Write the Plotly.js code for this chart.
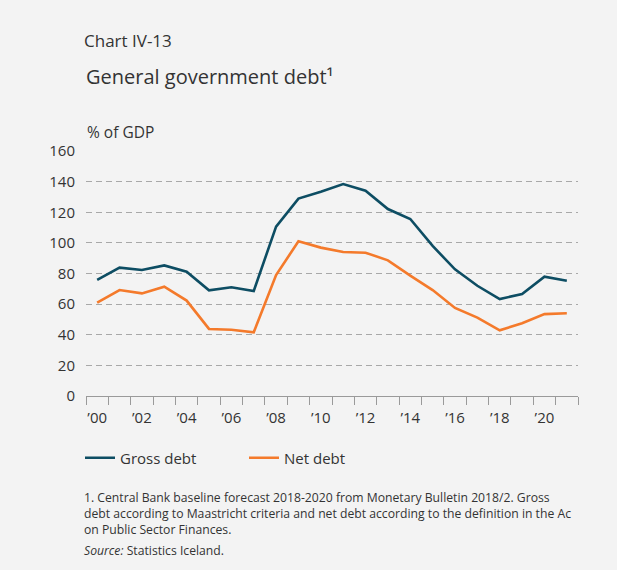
<!DOCTYPE html>
<html>
<head>
<meta charset="utf-8">
<script src="https://cdn.plot.ly/plotly-3.0.1.min.js"></script>
<style>
  html, body { margin: 0; padding: 0; background: #f3f3f3; }
  #chart { width: 617px; height: 570px; }
</style>
</head>
<body>
<div id="chart"></div>
<script>
// ---- Data ----
const years = [2000, 2001, 2002, 2003, 2004, 2005, 2006, 2007, 2008, 2009, 2010,
               2011, 2012, 2013, 2014, 2015, 2016, 2017, 2018, 2019, 2020, 2021];
const grossDebt = [75.8, 83.8, 82.3, 85.3, 81.2, 69.0, 71.0, 68.6, 110.6, 128.9, 133.4,
                   138.4, 134.1, 122.1, 115.6, 98.0, 82.7, 72.0, 63.3, 66.6, 77.9, 75.3];
const netDebt = [61.0, 69.2, 67.0, 71.4, 62.3, 43.8, 43.3, 41.6, 79.0, 101.0, 96.9,
                 94.0, 93.6, 88.6, 78.6, 69.2, 57.5, 51.2, 42.9, 47.5, 53.5, 54.0];
const xLabelYears = [2000, 2002, 2004, 2006, 2008, 2010, 2012, 2014, 2016, 2018, 2020];
const xTickLabels = ["\u201900", "\u201902", "\u201904", "\u201906", "\u201908", "\u201910",
                     "\u201912", "\u201914", "\u201916", "\u201918", "\u201920"];
const yTickValues = [0, 20, 40, 60, 80, 100, 120, 140, 160];
const seriesNames = ["Gross debt", "Net debt"];
const footnoteLines = [
  "1. Central Bank baseline forecast 2018-2020 from Monetary Bulletin 2018/2. Gross",
  "debt according to Maastricht criteria and net debt according to the definition in the Ac",
  "on Public Sector Finances."
];
const sourceText = "<i>Source:</i> Statistics Iceland.";

// ---- Styling ----
const FONT = "Open Sans, Noto Sans, sans-serif";
const TEXT = "#333333";
const W = 617, H = 570;
const M = { l: 86, r: 39, t: 151, b: 174 };
const plotW = W - M.l - M.r, plotH = H - M.t - M.b;
const px2x = px => (px - M.l) / plotW;
const py2y = py => (H - M.b - py) / plotH;

const traces = [
  { x: years, y: grossDebt, name: seriesNames[0], type: "scatter", mode: "lines",
    line: { color: "#0d4d63", width: 2.6 } },
  { x: years, y: netDebt, name: seriesNames[1], type: "scatter", mode: "lines",
    line: { color: "#f47a2b", width: 2.6 } }
];

const annotations = [
  { text: "General government debt\u00b9", xref: "paper", yref: "paper",
    x: px2x(84), y: py2y(77), xanchor: "left", yanchor: "middle", showarrow: false,
    font: { family: FONT, size: 20, color: TEXT } },
  { text: "% of GDP", xref: "paper", yref: "paper",
    x: px2x(85), y: py2y(132), xanchor: "left", yanchor: "middle", showarrow: false,
    font: { family: FONT, size: 15.5, color: TEXT } },
  { text: footnoteLines.join("<br>"), xref: "paper", yref: "paper", align: "left",
    x: px2x(83), y: py2y(513), xanchor: "left", yanchor: "middle", showarrow: false,
    borderpad: 0,
    font: { family: FONT, size: 12.2, color: TEXT } },
  { text: sourceText, xref: "paper", yref: "paper",
    x: px2x(83), y: py2y(550), xanchor: "left", yanchor: "middle", showarrow: false,
    borderpad: 0,
    font: { family: FONT, size: 12.2, color: TEXT } }
];

const layout = {
  width: W, height: H,
  margin: M,
  paper_bgcolor: "#f3f3f3",
  plot_bgcolor: "#f3f3f3",
  font: { family: FONT, color: TEXT, size: 15 },
  title: {
    text: "Chart IV-13",
    font: { family: FONT, size: 17, color: TEXT },
    xref: "container", yref: "container",
    x: 84 / W, xanchor: "left",
    y: 1 - 41 / H, yanchor: "middle"
  },
  showlegend: true,
  legend: {
    orientation: "h",
    xref: "container", yref: "container",
    x: 80 / W, xanchor: "left",
    y: 1 - 458 / H, yanchor: "middle",
    font: { family: FONT, size: 15, color: TEXT },
    bgcolor: "rgba(0,0,0,0)",
    entrywidth: 119,
    itemwidth: 30,
    traceorder: "normal"
  },
  xaxis: {
    range: [years[0] - 0.5, years[years.length - 1] + 0.5],
    tickmode: "array",
    tickvals: xLabelYears,
    ticktext: xTickLabels,
    ticks: "outside", ticklen: 8, tickcolor: "rgba(0,0,0,0)",
    minor: { tickmode: "linear", tick0: years[0] - 0.5, dtick: 1,
             ticks: "outside", ticklen: 8, tickcolor: "#9a9a9a", tickwidth: 1, showgrid: false },
    showgrid: false, zeroline: false,
    showline: true, linecolor: "#9a9a9a", linewidth: 1.2,
    tickfont: { family: FONT, size: 15, color: TEXT },
    fixedrange: true
  },
  yaxis: {
    range: [0, 160],
    tickmode: "array",
    tickvals: yTickValues,
    ticks: "outside", ticklen: 7, tickcolor: "rgba(0,0,0,0)",
    showgrid: true, gridcolor: "#a8a8a8", gridwidth: 1.1, griddash: "6px,4px",
    zeroline: false, showline: false,
    tickfont: { family: FONT, size: 15, color: TEXT },
    fixedrange: true
  },
  annotations: annotations
};

Plotly.newPlot("chart", traces, layout, { displayModeBar: false, staticPlot: true });
</script>
</body>
</html>
